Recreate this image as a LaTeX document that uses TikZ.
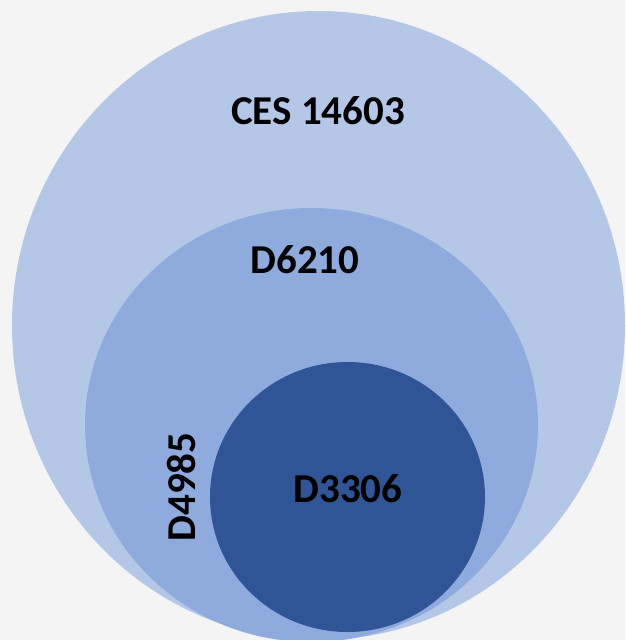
\documentclass[tikz,border=0pt]{standalone}
\usepackage{fontspec}
\setmainfont{Carlito}
\usepackage{tikz}
\definecolor{backgray}{HTML}{F4F4F4}
\definecolor{outerblue}{HTML}{B4C7E7}
\definecolor{midblue}{HTML}{8FAADC}
\definecolor{innerblue}{HTML}{2F5597}
\tikzset{
  setlabel/.style={inner sep=0pt, text depth=0pt, font=\fontsize{41}{41}\selectfont\bfseries, text=black}
}

\begin{document}
\begin{tikzpicture}[x=1pt, y=-1pt]
			%%%%% START %%%%%
			
			\useasboundingbox (0, 0) rectangle (625, 640);
			\fill[backgray] (0, 0) rectangle (625, 640);
			\clip (0, 0) rectangle (625, 640);
			
			\fill[outerblue] (318.5, 325.5) ellipse [x radius=306.5, y radius=314.5];
			\fill[midblue] (311.5, 425) ellipse [x radius=226.5, y radius=217];
			\fill[innerblue] (347.5, 497) ellipse [x radius=137.5, y radius=135];
			
			\node[setlabel] (ces) at (318, 111) {CES 14603};
			\node[setlabel] (dsixtwo) at (305, 260) {D6210};
			\node[setlabel] (dthree) at (348, 488) {D3306};
			\node[setlabel, rotate=90] (dfour) at (181, 487) {D4985};
			
			%%%%% END %%%%%
		\end{tikzpicture}
\end{document}
